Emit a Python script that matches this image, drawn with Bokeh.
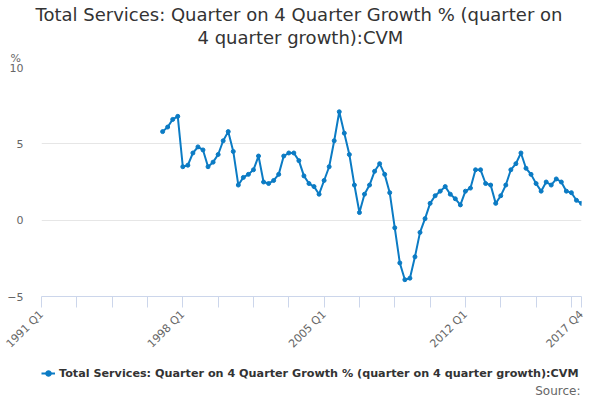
import math
from bokeh.plotting import figure
from bokeh.layouts import column
from bokeh.models import Range1d, FixedTicker, Legend, LegendItem, Label, Title
from bokeh.embed import file_html
from bokeh.resources import INLINE

# ---- data ----
quarters = [f"{y} Q{q}" for y in range(1991, 2018) for q in range(1, 5)]
series_start = "1997 Q1"
growth = [
    5.8, 6.1, 6.6, 6.8,   # 1997
    3.5, 3.6, 4.4, 4.8,   # 1998
    4.6, 3.5, 3.8, 4.3,   # 1999
    5.2, 5.8, 4.5, 2.3,   # 2000
    2.8, 3.0, 3.3, 4.2,   # 2001
    2.5, 2.4, 2.6, 3.0,   # 2002
    4.2, 4.4, 4.4, 3.9,   # 2003
    2.9, 2.4, 2.2, 1.7,   # 2004
    2.6, 3.5, 5.2, 7.1,   # 2005
    5.7, 4.3, 2.3, 0.5,   # 2006
    1.7, 2.3, 3.2, 3.7,   # 2007
    3.0, 1.8, -0.5, -2.8, # 2008
    -3.9, -3.8, -2.4, -0.8,  # 2009
    0.1, 1.1, 1.6, 1.9,   # 2010
    2.2, 1.7, 1.4, 1.0,   # 2011
    1.9, 2.1, 3.3, 3.3,   # 2012
    2.4, 2.3, 1.1, 1.6,   # 2013
    2.3, 3.3, 3.7, 4.4,   # 2014
    3.4, 3.0, 2.4, 1.9,   # 2015
    2.5, 2.3, 2.7, 2.5,   # 2016
    1.9, 1.8, 1.3, 1.1,   # 2017
]
labeled_quarters = ["1991 Q1", "1998 Q1", "2005 Q1", "2012 Q1", "2017 Q4"]
y_ticks = [-5, 0, 5, 10]
series_name = "Total Services: Quarter on 4 Quarter Growth % (quarter on 4 quarter growth):CVM"
title_lines = ["Total Services: Quarter on 4 Quarter Growth % (quarter on",
               "4 quarter growth):CVM"]
unit_label = "%"
source_text = "Source:"

i0 = quarters.index(series_start)
xs = list(range(i0, i0 + len(growth)))
last = len(quarters) - 1
tick_pos = list(range(0, last, 7)) + [last]
overrides = {t: "" for t in tick_pos}
for q in labeled_quarters:
    overrides[quarters.index(q)] = q

FONT = "DejaVu Sans"
BLUE = "#0b7bc4"
W = 600
H1 = 358
H2 = 400 - H1
FRAME_W = 540

p = figure(width=W, height=H1, output_backend="svg", toolbar_location=None,
           x_range=Range1d(0, last), y_range=Range1d(min(y_ticks), max(y_ticks)),
           min_border_left=41, min_border_right=19, min_border_top=67, min_border_bottom=61)

# outermost title line, then inner stacked titles (first added = closest to frame)
p.title.text = title_lines[0]
p.title.align = "left"
p.title.offset = -6
p.title.text_font = FONT
p.title.text_font_size = "18px"
p.title.text_font_style = "normal"
p.title.text_color = "#333333"
p.title.standoff = 0
p.add_layout(Title(text=unit_label, align="left", offset=-31, text_font=FONT,
                   text_font_size="11px", text_font_style="normal",
                   text_color="#666666", standoff=5), "above")
p.add_layout(Title(text=title_lines[1], align="left", offset=156, text_font=FONT,
                   text_font_size="18px", text_font_style="normal",
                   text_color="#333333", standoff=0), "above")

p.outline_line_color = None
p.xgrid.visible = False
p.ygrid.grid_line_color = "#e6e6e6"
p.ygrid.ticker = FixedTicker(ticks=y_ticks)

p.yaxis.ticker = FixedTicker(ticks=y_ticks)
p.yaxis.axis_line_color = None
p.yaxis.major_tick_line_color = None
p.yaxis.minor_tick_line_color = None
p.yaxis.major_label_text_font = FONT
p.yaxis.major_label_text_font_size = "11px"
p.yaxis.major_label_text_color = "#666666"
p.yaxis.major_label_standoff = 12

p.xaxis.ticker = FixedTicker(ticks=tick_pos)
p.xaxis.major_label_overrides = overrides
p.xaxis.axis_line_color = "#ccd6eb"
p.xaxis.major_tick_line_color = "#ccd6eb"
p.xaxis.major_tick_out = 11
p.xaxis.major_tick_in = 0
p.xaxis.minor_tick_line_color = None
p.xaxis.major_label_orientation = math.pi / 4
p.xaxis.major_label_text_font = FONT
p.xaxis.major_label_text_font_size = "11px"
p.xaxis.major_label_text_color = "#666666"
p.xaxis.major_label_standoff = 5

p.line(xs, growth, line_color=BLUE, line_width=2)
p.scatter(xs, growth, size=4, color=BLUE)

# ---- legend / source strip (frame aligned with the chart; swatch renderers kept out of view) ----
q = figure(width=W, height=H2, output_backend="svg", toolbar_location=None,
           x_axis_type=None, y_axis_type=None,
           x_range=Range1d(-2000, -1000), y_range=Range1d(-2000, -1000),
           min_border_left=0, min_border_right=0, min_border_top=0, min_border_bottom=0)
q.grid.visible = False
q.outline_line_color = None
kl = q.line(xs, growth, line_color=BLUE, line_width=2)
ks = q.scatter(xs, growth, size=4, color=BLUE)
legend = Legend(items=[LegendItem(label=series_name, renderers=[kl, ks])],
                location=(0, 17), orientation="horizontal",
                label_text_font=FONT, label_text_font_size="11.2px",
                label_text_font_style="bold", label_text_color="#333333",
                border_line_color=None, background_fill_alpha=0,
                padding=0, margin=0, glyph_width=14, label_standoff=4, spacing=0)
q.add_layout(legend)
q.add_layout(Label(x=FRAME_W - 1, y=10, x_units="screen", y_units="screen", text=source_text,
                   text_align="right", text_baseline="middle", text_font=FONT,
                   text_font_size="12px", text_color="#666666"))

open("out.html", "w").write(file_html(column(p, q, spacing=0), INLINE))
